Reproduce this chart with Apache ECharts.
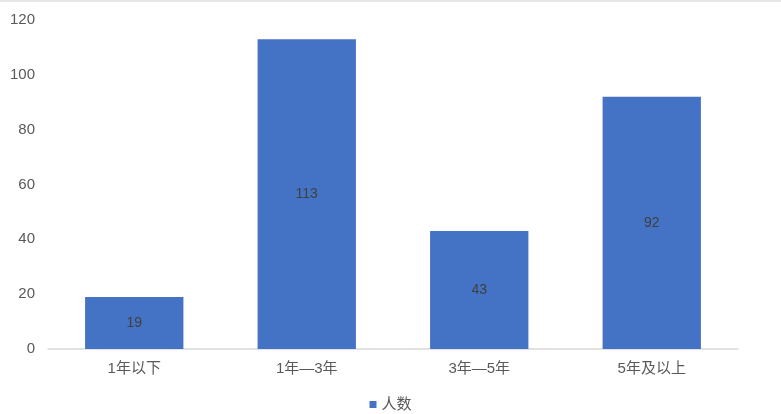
<!DOCTYPE html>
<html><head><meta charset="utf-8">
<script src="https://cdn.jsdelivr.net/npm/echarts@6/dist/echarts.min.js"></script>
<style>html,body{margin:0;padding:0;background:#fff}#c{width:781px;height:414px}</style>
</head><body><div id="c"></div>
<script>
const categories = ['1年以下', '1年—3年', '3年—5年', '5年及以上'];
const counts = [19, 113, 43, 92];
const seriesName = '人数';
const chart = echarts.init(document.getElementById('c'));
chart.setOption({
  animation: false,
  textStyle: { fontFamily: '"Liberation Sans", "Noto Sans CJK SC", sans-serif' },
  graphic: [{ type: 'rect', left: 0, top: 0, shape: { width: 781, height: 2 }, style: { fill: '#e6e6e6' } }],
  grid: { left: 48, right: 43, top: 20, bottom: 65 },
  legend: {
    bottom: -3, left: 'center', itemWidth: 7, itemHeight: 7, icon: 'rect',
    textStyle: { color: '#595959', fontSize: 15 }, itemGap: 4
  },
  xAxis: {
    type: 'category', data: categories,
    axisLine: { lineStyle: { color: '#d9d9d9', width: 1.5 } },
    axisTick: { show: false },
    axisLabel: { color: '#595959', fontSize: 15, margin: 12 }
  },
  yAxis: {
    type: 'value', min: 0, max: 120, interval: 20,
    splitLine: { show: false },
    axisLine: { show: false }, axisTick: { show: false },
    axisLabel: { color: '#595959', fontSize: 15, margin: 13 }
  },
  series: [{
    name: seriesName, type: 'bar', data: counts, barWidth: '57%',
    itemStyle: { color: '#4472C4' },
    label: { show: true, position: 'inside', color: '#404040', fontSize: 14 }
  }]
});
</script></body></html>
